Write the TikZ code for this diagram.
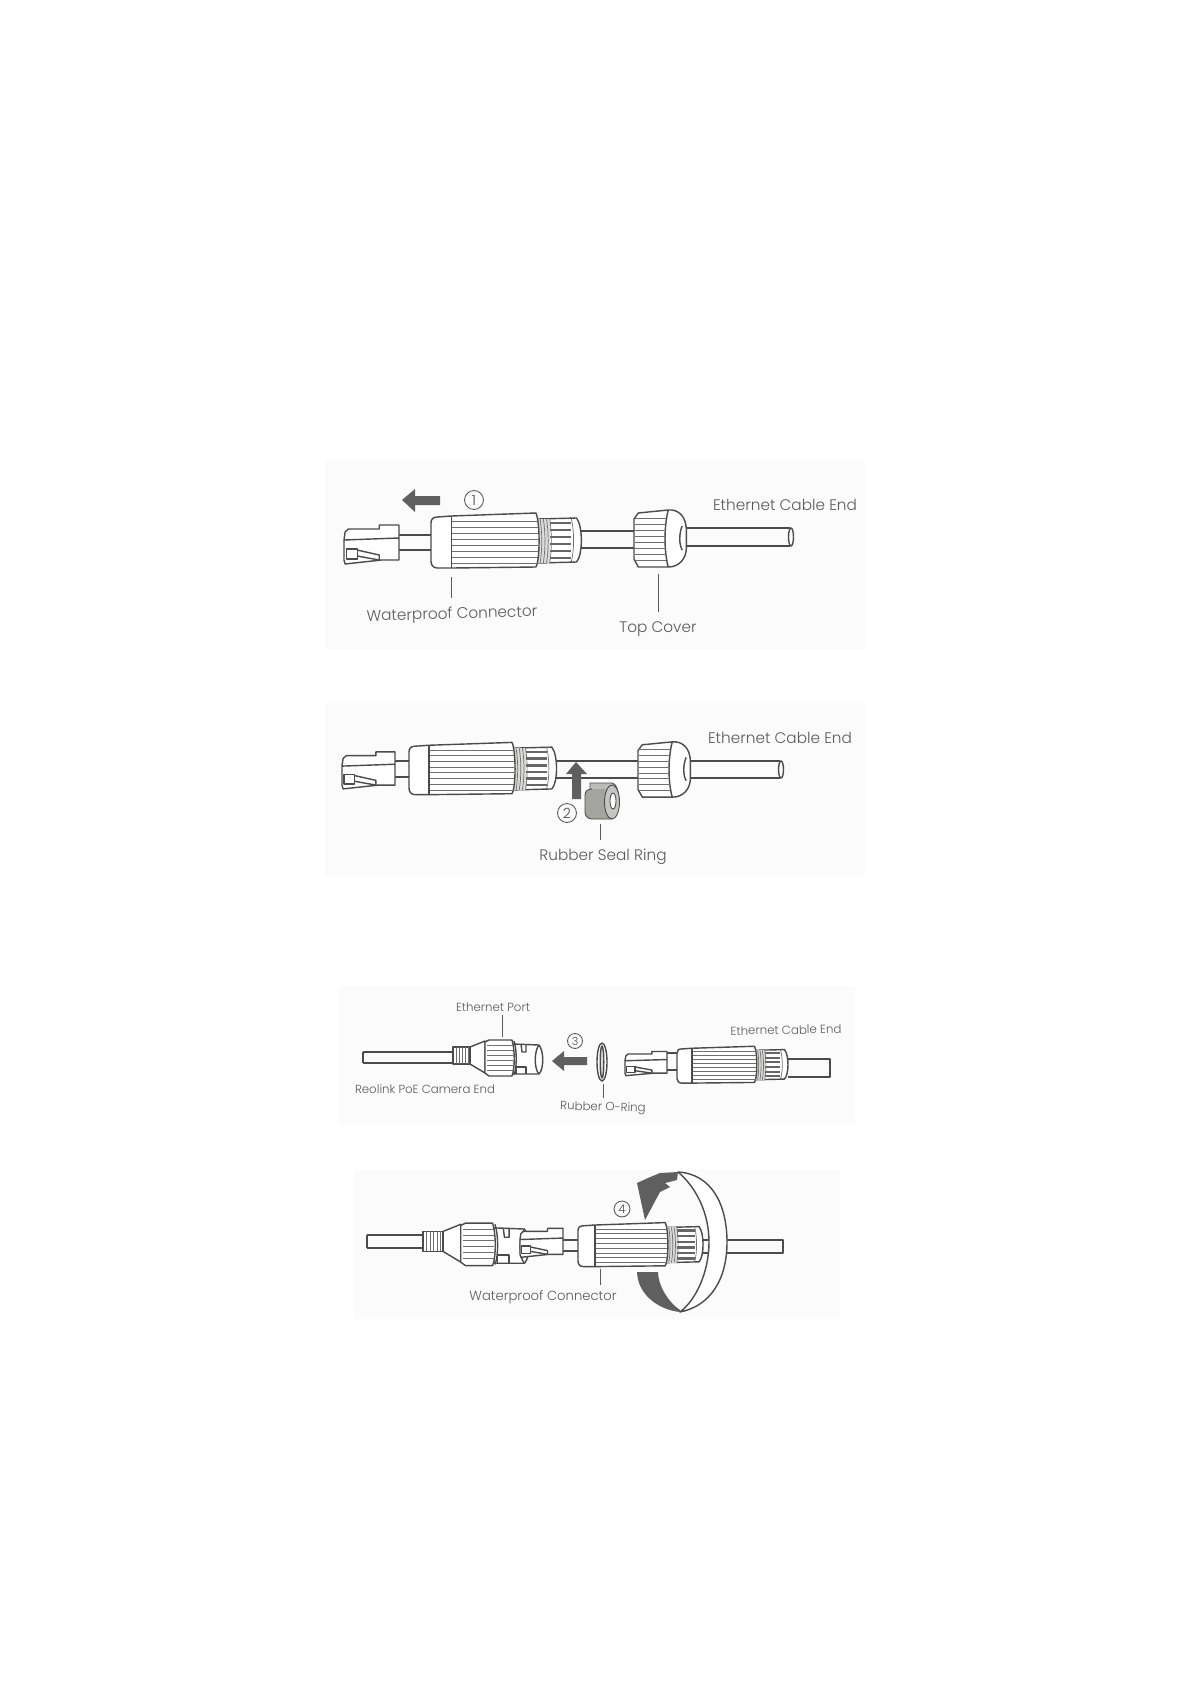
\documentclass[tikz,border=0pt]{standalone}
\usepackage{fontspec}
\setmainfont{Poppins}[UprightFont=* Light]
\usepackage{tikz}
\definecolor{wiregrey}{RGB}{75, 75, 75}
\definecolor{labelgrey}{RGB}{90, 90, 90}
\definecolor{arrowgrey}{RGB}{95, 95, 95}
\definecolor{ringgrey}{RGB}{165, 165, 160}
\definecolor{panelgrey}{RGB}{251, 251, 251}
\tikzset{
  wireline/.style={draw=wiregrey, line width=0.8pt, line join=round},
  ribline/.style={draw=wiregrey!80, line width=0.4pt},
  leader/.style={draw=labelgrey, line width=0.5pt},
  biglabel/.style={text=labelgrey, font=\fontsize{8.7}{10}\selectfont, inner sep=0pt},
  smalllabel/.style={text=labelgrey, font=\fontsize{6.7}{8}\selectfont, inner sep=0pt},
  stepmark/.style={circle, draw=labelgrey, line width=0.5pt, text=wiregrey, inner sep=0pt, font=\fontsize{8}{9}\selectfont},
  arrowfill/.style={fill=arrowgrey, draw=none},
}
\newcommand{\rjplug}[4]{%
  \begin{scope}[shift={(#1,#2)},xscale=#3,yscale=#4]
    \draw[wireline, fill=white] (0,-2) -- (1,-10) -- (4,-13) -- (32,-13) -- (32,-17) -- (50,-17) -- (50,18) -- (34,18) -- (1,22) -- (0,18) -- cycle;
    \draw[wireline] (0,-2) -- (50,-4);
    \draw[wireline] (2,7) rectangle (12,17);
    \draw[wireline] (12,8) -- (32,13) -- (32,18);
    \draw[wireline] (12,14) -- (32,18);
  \end{scope}}
\newcommand{\waterbody}[4]{%
  \begin{scope}[shift={(#1,#2)},xscale=#3,yscale=#4]
    \draw[wireline, fill=white] (100,-22) -- (136,-23) .. controls (142,-15) and (142,14) .. (136,21) -- (100,22) -- cycle;
    \draw[ribline] (131,-23) .. controls (134,-10) and (134,10) .. (131,21);
    \fill[ringgrey!40] (100,-22) rectangle (111,22);
    \foreach \ry in {-18,-11,-4,3,10,17}
      \draw[wiregrey!85, line width=#4*1.6pt] (111,\ry) -- (131,\ry);
    \foreach \tx in {102,105,108,111}
      \draw[ribline] (\tx,-22) .. controls (\tx+2,-8) and (\tx+2,8) .. (\tx,22);
    \draw[wireline, fill=white] (0,-18) .. controls (0,-22) and (2,-24) .. (6,-24) -- (19,-25) -- (98,-28) .. controls (102,-20) and (102,20) .. (98,26) -- (19,27) -- (6,27) .. controls (2,27) and (0,24) .. (0,20) -- cycle;
    \draw[wireline] (19,-25) -- (19,27);
    \foreach \ry in {-20,-14,...,22}
      \draw[ribline] (20,\ry) -- (100,\ry);
  \end{scope}}
\newcommand{\topcover}[4]{%
  \begin{scope}[shift={(#1,#2)},xscale=#3,yscale=#4]
    \draw[wireline, fill=white] (0,-20) -- (4,-26) -- (32,-29) .. controls (42,-30) and (49,-22) .. (49,-8) -- (49,8) .. controls (49,20) and (42,28) .. (32,28) -- (4,28) -- (0,20) -- cycle;
    \draw[wireline] (32,-29) .. controls (28,-12) and (28,12) .. (32,28);
    \draw[wireline] (45,-13) .. controls (42,-5) and (42,5) .. (45,11);
    \foreach \ry in {-21,-15,...,24}
      \draw[ribline] (1,\ry) -- (30,\ry);
  \end{scope}}
\newcommand{\cameraport}[3]{%
  \begin{scope}[shift={(#1,#2)},scale=#3]
    \draw[wireline, fill=white] (17,-9) -- (32,-15) -- (32,17) -- (17,8) -- cycle;
    \draw[wireline, fill=white] (0,-9) rectangle (17,8);
    \foreach \rx in {3,6,...,15}
      \draw[ribline] (\rx,-9) -- (\rx,8);
    \draw[wireline, fill=white] (60,-12) -- (86,-11) .. controls (91,-5) and (91,13) .. (86,18) -- (60,18) -- cycle;
    \draw[wireline] (86,-11) .. controls (81,-5) and (81,13) .. (86,18);
    \draw[wireline] (68,-12) -- (69,-4) -- (73,-4) -- (73,-12);
    \draw[wireline] (63,18) -- (63,11) -- (73,11) -- (73,18);
    \draw[wireline, fill=white] (32,-14) -- (36,-16) -- (59,-16) .. controls (62,-6) and (62,12) .. (59,20) -- (36,20) -- (32,17) -- cycle;
    \draw[wireline] (61,-15) .. controls (64,-6) and (64,12) .. (61,19);
    \foreach \ry in {-11,-6,...,16}
      \draw[ribline] (34,\ry) -- (60,\ry);
  \end{scope}}
\begin{document}
\begin{tikzpicture}[x=0.02cm, y=-0.02cm]
  \useasboundingbox (0,0) rectangle (1191,1684);
  \fill[panelgrey] (325,460) rectangle (865,650);
  \fill[panelgrey] (325,703) rectangle (865,875);
  \fill[panelgrey] (339,986) rectangle (855,1124);
  \fill[panelgrey] (354,1170) rectangle (840,1319);

  % step one
  \draw[wireline] (399,535) -- (431,535) (399,550) -- (431,550);
  \draw[wireline] (581,531) -- (634,531) (581,548) -- (634,548);
  \draw[wireline] (682,528) -- (790,528) (682,546) -- (790,546);
  \draw[wireline, fill=white] (791,537) ellipse [x radius=2.5, y radius=9];
  \rjplug{344}{542}{1.1}{1}
  \waterbody{431}{541}{1.07}{1}
  \topcover{634}{539}{1.07}{1}
  \fill[arrowfill] (402,500) -- (415,489) -- (415,496) -- (440,496) -- (440,505) -- (415,505) -- (415,512) -- cycle;
  \node[stepmark, minimum size=19*0.567pt] (stepone) at (474,500) {1};
  \node[biglabel] (cableendone) at (785,505) {Ethernet Cable End};
  \node[biglabel, rotate=1.5] (waterlabelone) at (452,615) {Waterproof Connector};
  \node[biglabel] (coverlabel) at (658,629) {Top Cover};
  \coordinate (waterbodyone) at (451,577);
  \coordinate (coverbottom) at (658,574);
  \draw[leader, shorten >=5pt] (waterbodyone) -- (waterbodyone |- waterlabelone.north);
  \draw[leader, shorten >=5pt] (coverbottom) -- (coverbottom |- coverlabel.north);

  % step two
  \draw[wireline] (395,761) -- (409,761) (395,777) -- (409,777);
  \draw[wireline] (556,761) -- (638,761) (556,778) -- (638,778);
  \draw[wireline] (688,761) -- (780,761) (688,778) -- (780,778);
  \draw[wireline, fill=white] (781,769.5) ellipse [x radius=2.5, y radius=8.5];
  \rjplug{342}{768}{1.06}{0.95}
  \waterbody{409}{769}{1.05}{0.95}
  \topcover{638}{770}{1.07}{0.97}
  \fill[arrowfill] (576,762) -- (587,774) -- (581,774) -- (581,799) -- (572,799) -- (572,774) -- (566,774) -- cycle;
  \draw[wiregrey, line width=0.5pt, fill=ringgrey!75] (590,790) -- (590,783) -- (612,783) .. controls (616,783) and (619,792) .. (619,801) -- (610,801) -- cycle;
  \fill[ringgrey] (585,795) .. controls (585,791) and (588,789) .. (592,789) -- (612,789) -- (612,819) -- (592,819) .. controls (588,819) and (585,816) .. (585,812) -- cycle;
  \draw[wiregrey, line width=0.5pt] (592,789) .. controls (588,789) and (585,791) .. (585,795) -- (585,812) .. controls (585,816) and (588,819) .. (592,819) -- (612,819);
  \draw[wiregrey, line width=0.5pt, fill=ringgrey!65] (612,802) ellipse [x radius=7.5, y radius=17];
  \draw[wiregrey, line width=0.5pt, fill=white] (613,801) ellipse [x radius=3, y radius=8];
  \node[stepmark, minimum size=19*0.567pt] (steptwo) at (567,813) {2};
  \node[biglabel] (cableendtwo) at (780,738) {Ethernet Cable End};
  \node[biglabel] (seallabel) at (603,857) {Rubber Seal Ring};
  \coordinate (sealbottom) at (600,824);
  \draw[leader, shorten >=5pt] (sealbottom) -- (sealbottom |- seallabel.north);

  % step three
  \draw[wireline] (363,1052) -- (453,1052) (363,1063) -- (453,1063) (363,1052) -- (363,1063);
  \cameraport{453}{1056}{1}
  \fill[arrowfill] (552,1061) -- (564,1051) -- (564,1057) -- (587,1057) -- (587,1065) -- (564,1065) -- (564,1071) -- cycle;
  \node[stepmark, minimum size=15*0.567pt, font=\fontsize{6.3}{7}\selectfont] (stepthree) at (575,1041) {3};
  \draw[wireline, fill=white] (602,1062) ellipse [x radius=5, y radius=19];
  \draw[wireline, fill=ringgrey!40] (602,1062) ellipse [x radius=1.8, y radius=16];
  \draw[wireline] (667,1053) -- (677,1053) (667,1070) -- (677,1070);
  \draw[wireline] (788,1059) -- (830,1059) -- (830,1077) -- (788,1077);
  \rjplug{625}{1062}{0.84}{0.62}
  \waterbody{677}{1065}{0.79}{0.67}
  \node[smalllabel] (portlabel) at (493,1007) {Ethernet Port};
  \node[smalllabel] (cameralabel) at (425,1089) {Reolink PoE Camera End};
  \node[smalllabel, rotate=-1.5] (oringlabel) at (603,1108) {Rubber O-Ring};
  \node[smalllabel, rotate=1] (cableendthree) at (786,1030) {Ethernet Cable End};
  \coordinate (porttop) at (502,1037);
  \coordinate (oringbottom) at (603,1084);
  \draw[leader, shorten >=2pt] (porttop) -- (porttop |- portlabel.south);
  \draw[leader, shorten >=2pt] (oringbottom) -- (oringbottom |- oringlabel.north);

  % step four
  \draw[wireline] (367,1235) -- (423,1235) (367,1248) -- (423,1248) (367,1235) -- (367,1248);
  \cameraport{423}{1242}{1.18}
  \draw[wireline] (563,1240) -- (578,1240) (563,1251) -- (578,1251);
  \rjplug{520}{1241}{0.86}{0.74}
  \waterbody{578}{1245}{0.89}{0.8}
  \draw[wireline] (703,1240) -- (727,1240) (703,1253) -- (727,1253);
  \draw[wireline] (727,1240) -- (783,1240) -- (783,1253) -- (727,1253);
  \draw[wireline, fill=white] (678,1172) .. controls (712,1174) and (727,1205) .. (727,1242) .. controls (727,1280) and (710,1306) .. (680,1312) .. controls (696,1300) and (709,1272) .. (709,1242) .. controls (709,1214) and (697,1188) .. (678,1172) -- cycle;
  \fill[arrowfill] (678,1172) -- (660,1173) -- (648,1178) -- (637,1183) -- (645,1220) -- (660,1192) -- (670,1187) -- (665,1183) -- (677,1180) -- cycle;
  \fill[arrowfill] (637,1272) -- (658,1272) .. controls (658,1285) and (668,1302) .. (680,1310) -- (680,1312) .. controls (660,1310) and (638,1296) .. (637,1272) -- cycle;
  \node[stepmark, minimum size=16*0.567pt, font=\fontsize{6.8}{8}\selectfont] (stepfour) at (622,1209) {4};
  \node[biglabel, font=\fontsize{7.5}{9}\selectfont] (waterlabeltwo) at (543,1297) {Waterproof Connector};
  \coordinate (waterbodytwo) at (600,1269);
  \draw[leader, shorten >=3pt] (waterbodytwo) -- (waterbodytwo |- waterlabeltwo.north);
\end{tikzpicture}
\end{document}
